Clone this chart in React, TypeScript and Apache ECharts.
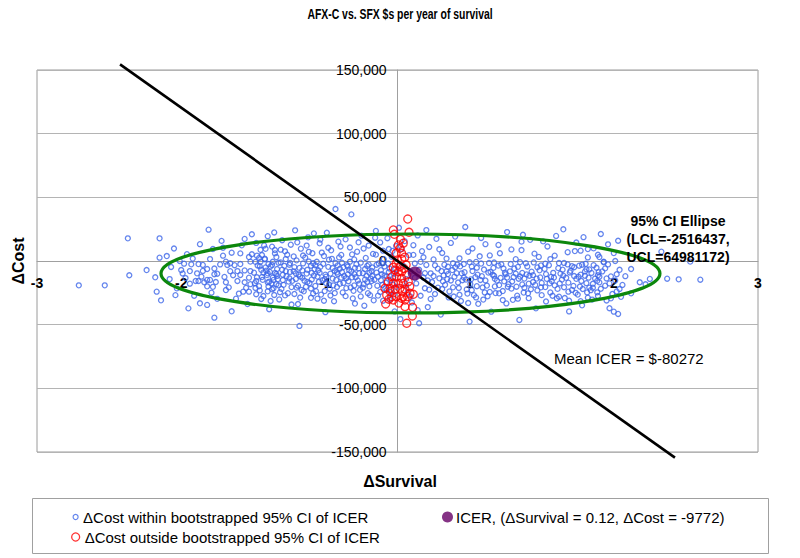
import React, { useEffect, useRef } from 'react';
import * as echarts from 'echarts';

const FONT = "'Liberation Sans', Arial, sans-serif";
const TITLE = 'AFX-C vs. SFX $s per year of survival';
const X_NAME = 'ΔSurvival';
const Y_NAME = 'ΔCost';
const NAME_WITHIN = 'ΔCost within bootstrapped 95% CI of ICER';
const NAME_OUTSIDE = 'ΔCost outside bootstrapped 95% CI of ICER';
const NAME_ICER = 'ICER, (ΔSurvival = 0.12, ΔCost = -9772)';
const MEAN_ICER_TEXT = 'Mean ICER = $-80272';

const X_MIN = -2.5;
const X_MAX = 2.5;
const Y_MIN = -150000;
const Y_MAX = 150000;
const xTickValues = [-2.5, -1.5, -0.5, 0.5, 1.5, 2.5];
const xTickLabels = ['-3', '-2', '-1', '1', '2', '3'];
const icerPoint: [number, number] = [0.12, -9772];
const meanIcer = -80272;
const icerLineEnds = [-1.924, 1.924];
// center survival, center cost, semi-axis survival, semi-axis cost
const ellipse = [0.09, -9800, 1.73, 31000];
const ellipseLabel = ['95% CI Ellipse', '(LCL=-2516437,', 'UCL=64981172)'];

const withinCI: [number, number][] = [
  [-2.21,-19100],[-2.03,-19100],[-1.87,17800],[-1.86,-11200],[-1.74,-7100],[-1.65,17800],[-1.65,2600],[-1.68,-12800],[-1.67,-24100],[-1.64,-30900],[-1.60,3900],
  [-1.51,0],[-1.48,-2100],[-1.43,-2600],[-1.38,-2400],[-1.35,-3100],[-1.50,-7100],[-1.44,-7900],[-1.39,-9700],[-1.32,-6300],[-1.36,-12300],[-1.40,-15700],[-1.38,-15700],[-1.32,-14900],[-1.30,-14900],[-1.27,-10400],[-1.25,-10000],[-1.19,-16700],[-1.29,-24900],[-1.37,-33200],[-1.32,-34500],[-1.27,-44500],[-1.31,24600],[-1.28,9400],[-1.21,10400],[-1.21,4200],[-1.19,-500],[-1.18,-3100],[-1.16,-1800],
  [-1.11,-7900],[-1.09,-11000],[-1.11,-15700],[-1.06,-16700],[-1.03,-13100],[-1.02,-7900],[-1.09,6000],[-1.06,17300],[-1.01,21000],[-1.02,-500],[-1.01,5300],[-1.07,-24100],[-1.03,-24100],[-0.98,-26100],[-0.98,-15700],[-0.94,4700],[-0.95,-500],[-0.92,1300],[-0.90,-9700],[-0.89,-16300],[-0.86,-14900],[-0.87,-22200],[-0.88,-31400],[-0.85,6000],[-0.84,-10200],[-0.85,8600],
  [-1.58,-14200],[-1.55,9800],[-1.53,-21500],[-1.49,-9800],[-1.46,5400],[-1.44,-17800],[-1.41,-27300],[-1.37,13200],[-1.35,-7800],[-1.32,-19900],[-1.30,1500],[-1.27,-5900],[-1.25,-29700],[-1.22,15800],[-1.20,-12500],[-1.17,-20700],[-1.15,6500],[-1.13,-3300],[-1.10,-25600],[-1.08,12300],[-1.06,-7400],[-1.04,-33800],[-1.02,-18200],[-1.15,-39500],[-1.45,-37200],
  [-1.57,-4700],[-1.54,-26800],[-1.47,-13400],[-1.42,1900],[-1.34,-16700],[-1.28,-20300],[-1.23,-2700],[-1.19,-22800],[-1.14,-11200],[-1.12,-29600],[-1.09,-2400],[-1.05,-21100],[-1.03,3100],[-1.26,-16500],[-1.16,-8000],
  [-0.98,14200],[-0.97,-3500],[-0.96,-19800],[-0.95,8800],[-0.94,-12600],[-0.93,-27500],[-0.92,1800],[-0.91,-7600],[-0.90,-16800],[-0.90,19500],
  [-0.89,-37900],[-0.88,-4200],[-0.87,11300],[-0.86,-21400],[-0.85,-9500],[-0.84,3100],[-0.83,-14300],[-0.82,-30200],[-0.81,-1100],[-0.80,16300],[-0.80,-6800],
  [-0.79,-18700],[-0.78,7600],[-0.77,-11900],[-0.76,-25300],[-0.75,-2900],[-0.74,12800],[-0.73,-15600],[-0.72,-8100],[-0.71,24100],[-0.70,-20900],[-0.70,500],
  [-0.69,-33800],[-0.68,-5400],[-0.68,-51000],[-0.67,9700],[-0.66,-13200],[-0.65,-23800],[-0.64,2700],[-0.63,-9900],[-0.62,18600],[-0.61,-17300],[-0.60,-3700],[-0.60,-28900],
  [-0.59,6100],[-0.58,21700],[-0.58,-11400],[-0.57,-19600],[-0.56,-600],[-0.55,-7300],[-0.54,13900],[-0.53,-26400],[-0.52,-15100],[-0.51,3900],[-0.50,-10700],[-0.50,-40200],
  [-0.49,22200],[-0.48,-4600],[-0.47,-21800],[-0.46,8400],[-0.45,-13800],[-0.44,-31600],[-0.43,40800],[-0.43,-1500],[-0.42,-8900],[-0.41,15200],[-0.40,-17900],[-0.40,-6100],
  [-0.39,4800],[-0.38,-24700],[-0.37,-11800],[-0.36,17000],[-0.35,-3200],[-0.34,-15900],[-0.33,10600],[-0.32,36600],[-0.32,-8300],[-0.31,-29400],[-0.30,-19200],[-0.30,1200],
  [-0.29,-12700],[-0.28,7300],[-0.27,-5800],[-0.26,-22600],[-0.25,19900],[-0.24,-9600],[-0.23,-35100],[-0.22,2400],[-0.21,-16400],[-0.20,12100],[-0.20,-2700],
  [-0.19,-26800],[-0.18,-7800],[-0.17,5600],[-0.16,-14700],[-0.15,23600],[-0.14,-19400],[-0.13,-1900],[-0.12,14600],[-0.11,-10400],[-0.10,-31200],[-0.10,8100],
  [-0.09,-4300],[-0.08,-17100],[-0.07,17900],[-0.06,-8700],[-0.05,-24200],[-0.04,3300],[-0.03,-13300],[-0.02,-39600],[-0.01,11700],[-0.01,-20300],
  [-0.995,-9200],[-0.975,4200],[-0.955,-23100],[-0.935,-14800],[-0.915,9600],[-0.895,-2400],[-0.875,-17600],[-0.855,22400],[-0.835,-6300],[-0.815,-24500],[-0.795,-10800],[-0.775,1500],[-0.755,-16200],[-0.735,-34200],[-0.715,-4800],[-0.695,14700],[-0.675,-12100],[-0.655,-1900],[-0.635,-20300],[-0.615,7200],[-0.595,-14500],[-0.575,-6400],[-0.555,-29600],[-0.535,16800],[-0.515,-2200],[-0.495,-12300],[-0.475,-18500],[-0.455,1700],[-0.435,-25200],[-0.415,-10200],[-0.395,11400],[-0.375,-4800],[-0.355,-21300],[-0.335,-7100],[-0.315,5200],[-0.295,-33400],[-0.275,-15300],[-0.255,-1300],[-0.235,9800],[-0.215,-11600],[-0.195,-19900],[-0.175,-5100],[-0.155,18300],[-0.135,-27200],[-0.115,-7200],[-0.095,1400],[-0.075,-12200],[-0.055,-30100],[-0.035,7900],[-0.015,-6400],
  [-0.985,-700],[-0.945,-6900],[-0.905,-11100],[-0.865,-13000],[-0.825,-19100],[-0.785,-3800],[-0.745,-8600],[-0.705,-14100],[-0.665,-22700],[-0.625,-6900],[-0.585,-1700],[-0.545,-16300],[-0.505,-23600],[-0.465,-9900],[-0.425,-14900],[-0.385,-1400],[-0.345,-10500],[-0.305,-23400],[-0.265,-17800],[-0.225,-6300],[-0.185,-13800],[-0.145,-9100],[-0.105,-18800],[-0.065,-2000],[-0.025,-9800],
  [-0.99,-17400],[-0.96,2300],[-0.93,-9000],[-0.90,-23800],[-0.87,-3100],[-0.84,-18200],[-0.81,8900],[-0.78,-27000],[-0.75,-13600],[-0.72,3600],[-0.69,-19400],[-0.66,-7400],[-0.63,12100],[-0.60,-21600],[-0.57,-3300],[-0.54,-9300],[-0.51,-31200],[-0.48,10400],[-0.45,-5500],[-0.42,-20400],[-0.39,-13100],[-0.36,-27600],[-0.33,-600],[-0.30,-10200],[-0.27,14700],[-0.24,-21000],[-0.21,-3900],[-0.18,-15800],[-0.15,5000],[-0.12,-24300],[-0.09,-11400],[-0.06,9400],[-0.03,-18600],
  [-0.975,-12800],[-0.945,-29800],[-0.915,-5000],[-0.885,-8600],[-0.855,-26700],[-0.825,-1400],[-0.795,-15000],[-0.765,4900],[-0.735,-20500],[-0.705,-9700],[-0.675,-28700],[-0.645,-15500],[-0.615,-400],[-0.585,-25500],[-0.555,-12200],[-0.525,6600],[-0.495,-17300],[-0.465,-27100],[-0.435,-7800],[-0.405,2800],[-0.375,-17200],[-0.345,-4400],[-0.315,-12800],[-0.285,-2500],[-0.255,-27800],[-0.225,-14500],[-0.195,-9300],[-0.165,-30900],[-0.135,-12300],[-0.105,-1900],[-0.075,-22900],[-0.045,-15100],
  [-0.985,-21200],[-0.955,-4200],[-0.925,12200],[-0.895,-20100],[-0.865,-600],[-0.835,-11700],[-0.805,-21900],[-0.775,-8000],[-0.745,-1600],[-0.715,-25900],[-0.685,-10600],[-0.655,4300],[-0.625,-16400],[-0.595,-9300],[-0.565,-23700],[-0.535,-4600],[-0.505,-14300],[-0.475,1000],[-0.445,-19100],[-0.415,-3500],[-0.385,-8700],[-0.355,-13500],[-0.325,-20800],[-0.295,-5400],[-0.265,-9600],[-0.235,-18200],[-0.205,-25300],[-0.175,-11800],[-0.145,-2900],[-0.115,-15100],[-0.085,-21500],[-0.055,-5900],[-0.025,-26200],
  [0.01,26100],[0.02,-45600],[0.03,9500],[0.04,-3800],[0.05,15600],[0.06,-14200],[0.07,-24800],[0.08,4600],[0.09,-8200],[0.10,-32600],[0.11,12400],[0.12,-1900],[0.13,-17600],[0.14,20100],[0.15,-48900],[0.15,-6900],[0.16,-27300],[0.17,7700],[0.18,-12900],[0.19,-21400],[0.20,24300],[0.20,-3100],[0.21,-36200],[0.22,11000],[0.23,-9700],[0.24,-16500],[0.25,1200],[0.26,-25900],[0.27,17400],[0.28,-6000],[0.29,-13600],[0.30,-42100],[0.14,-38600],[0.23,-29800],[0.18,2900],
  [0.06,-19200],[0.09,-27800],[0.12,-13200],[0.16,-700],[0.19,-9600],[0.22,-22500],[0.25,-11800],[0.28,-20900],[0.11,4800],[0.26,-3400],[0.21,-15300],[0.29,9200],
  [0.31,6300],[0.33,-18700],[0.35,-4500],[0.37,14200],[0.39,-27900],[0.41,-9600],[0.43,2100],[0.45,-15100],[0.47,26700],[0.48,-22300],[0.50,-47600],[0.50,-1000],[0.52,9800],[0.54,-12700],[0.56,-33600],[0.58,18100],[0.60,-6700],[0.62,-19300],[0.64,4400],[0.66,-10800],[0.68,-25200],[0.70,12600],[0.72,-2600],[0.74,-16000],[0.76,22700],[0.78,-8100],[0.80,-30500],[0.82,1400],[0.84,-13900],[0.845,-46300],[0.86,8600],[0.88,-21000],[0.90,-4300],[0.92,16600],[0.94,-11100],[0.96,-37200],[0.98,3200],[1.00,-17200],[1.02,-6200],[1.04,11400],[1.06,-24700],[1.08,-9300],[1.10,19700],[1.12,-1600],[1.14,-14600],[1.16,-29100],[1.18,6900],[1.20,-7700],[1.22,-19600],[1.24,14500],[1.26,-3700],[1.28,-34800],[1.30,-11600],[1.32,2800],[1.34,-22900],[1.36,9900],[1.38,-5300],[1.40,-16800],
  [0.32,-11300],[0.34,1900],[0.36,-23900],[0.38,-7100],[0.40,19200],[0.42,-16900],[0.44,-31400],[0.46,-2400],[0.49,7300],[0.51,-14400],[0.53,-26800],[0.55,-5300],[0.57,3700],[0.59,-20800],[0.61,13200],[0.63,-9100],[0.65,-39800],[0.67,-1200],[0.69,-15400],[0.71,6100],[0.73,-23600],[0.75,-10400],[0.77,-18200],[0.79,9100],[0.81,-5900],[0.83,-27200],[0.85,-12200],[0.87,20600],[0.89,-1700],[0.91,-17800],[0.93,-8400],[0.95,5800],[0.97,-23100],[0.99,-12900],[1.01,15400],[1.03,-31800],[1.05,-3300],[1.07,-15800],[1.09,4200],[1.11,-21900],[1.13,-9900],[1.15,24900],[1.17,-13200],[1.19,-39600],[1.21,-4100],[1.23,7800],[1.25,-26400],[1.27,-10700],[1.29,18700],[1.31,-17400],[1.33,-6600],[1.35,-30300],[1.37,-13800],[1.39,4900],
  [0.305,-7900],[0.345,-14300],[0.385,-1800],[0.425,-21200],[0.465,-8800],[0.505,-18100],[0.545,-700],[0.585,-11900],[0.625,-27700],[0.665,-5400],[0.705,-18900],[0.745,-9200],[0.785,-2400],[0.825,-20200],[0.865,-9400],[0.905,-25400],[0.945,-1100],[0.985,-7300],[1.025,-20500],[1.065,-12500],[1.105,-29300],[1.145,-6800],[1.185,-17000],[1.225,-11800],[1.265,-20100],[1.305,-2200],[1.345,-9400],[1.385,-24600],
  [0.31,-22000],[0.34,-8100],[0.37,-15300],[0.40,-4900],[0.43,-26500],[0.46,-13000],[0.49,-33000],[0.52,-7900],[0.55,-19800],[0.58,-2000],[0.61,-15300],[0.64,-24300],[0.67,-11600],[0.70,-3600],[0.73,-30700],[0.76,-13000],[0.79,-21700],[0.82,-9900],[0.85,-900],[0.88,-13800],[0.91,-29200],[0.94,-16500],[0.97,-5000],[1.00,-26800],[1.03,-10300],[1.06,1500],[1.09,-19100],[1.12,-28000],[1.15,-11500],[1.18,-2700],[1.21,-22700],[1.24,-14000],[1.27,-31500],[1.30,-8200],[1.33,-20900],[1.36,-3300],[1.39,-11200],
  [0.325,-2900],[0.355,-28600],[0.395,-12300],[0.435,-4200],[0.475,-14600],[0.515,-22900],[0.555,-10700],[0.595,-30300],[0.635,-1600],[0.675,-20000],[0.715,-13200],[0.755,-33300],[0.795,-16100],[0.835,-4600],[0.875,-24800],[0.915,-11600],[0.955,-18800],[0.995,-3500],[1.035,-14000],[1.075,-27300],[1.115,-5600],[1.155,-20600],[1.195,-9000],[1.235,-25000],[1.275,-15700],[1.315,-24700],[1.355,-17900],[1.395,-8800],
  [0.315,-16000],[0.35,-10300],[0.385,-20700],[0.415,-2800],[0.445,-9700],[0.485,-25600],[0.515,-4400],[0.545,-28600],[0.575,-14900],[0.605,-24700],[0.645,-8500],[0.675,-14000],[0.705,-25400],[0.735,-5900],[0.765,-20200],[0.805,-12600],[0.835,-29600],[0.865,-18400],[0.895,-10500],[0.925,-22200],[0.965,-13800],[0.995,-20700],[1.025,-2100],[1.055,-17500],[1.085,-13000],[1.125,-17600],[1.155,-1500],[1.185,-24100],[1.225,-4900],[1.255,-12400],[1.285,-22000],[1.325,-13100],[1.355,-21000],[1.385,-15600],
  [1.42,-8200],[1.44,-19400],[1.46,-2700],[1.48,-12100],[1.50,6200],[1.52,-23900],[1.54,-6900],[1.45,-31000],[1.53,15900],[1.49,-25900],[1.41,21200],[1.47,-17600],[1.55,-28100],[1.51,-15300],[1.43,-600],
  [1.41,-21800],[1.44,-5800],[1.48,-29300],[1.52,-10400],[1.56,-18800],[1.51,0],[1.45,-13700],[1.58,-11900],
  [1.46,13100],[1.62,-6300],[1.68,-16700],[1.72,-18300],[1.75,-14100],[1.87,-13900],[1.95,-14400],[2.10,-14700],[2.03,-500],[1.47,-37100],[1.50,-39800],[1.53,-41600],[1.54,-22000],[1.39,-27500],[1.32,-28800],[1.19,-31200],[1.31,-6500],[1.28,-2900],[1.40,3100],[1.43,-1000],[1.40,-12300],[1.27,8100],[1.32,9400],[1.83,7300],[1.62,-25400],[0.86,15200],
];

const outsideCI: [number, number][] = [
  [0.071,32970],[-0.029,24340],[-0.022,20960],[0.080,22530],[0.006,12560],[0.017,9970],[-0.010,6040],[0.029,6040],[-0.001,785],[0.017,-4470],[-0.017,-7065],[0.006,-8400],[0.029,-8400],[-0.040,-12320],[-0.006,-12320],[0.029,-13580],[0.064,-10990],[-0.064,-16250],[-0.029,-17500],[0.006,-17500],[0.040,-17500],[0.075,-16250],[-0.087,-21430],[-0.052,-21430],[-0.017,-22220],[0.017,-21430],[0.052,-22220],[-0.075,-26690],[-0.040,-28020],[-0.006,-28020],[0.040,-28020],[0.029,-29280],[0.052,-30615],[0.087,-25360],[0.110,-26140],[0.105,-36350],[0.064,-48900],[-0.082,-33750],[0.052,-35870],[0.103,-43180],[-0.029,-30615],
  [0.040,14000],[0.050,3000],[0.020,17000],[0.060,-3000],[-0.010,-2000],[0.045,-6000],[0.085,-20000],[-0.050,-24000],[0.070,-28000],[-0.060,-30000],[0.010,-33000],[0.035,-24000],[0.030,1500],[-0.030,-5000],
];

const BLUE = '#3d66e8';
const RED = '#ff0000';
const PURPLE = '#660066';
const GREEN = '#0c870c';

// grid geometry (pixels)
const G_LEFT = 37;
const G_RIGHT = 42;
const G_TOP = 70;
const G_BOTTOM = 106;
const W = 800;
const H = 558;

export default function App() {
  const ref = useRef<HTMLDivElement>(null);
  useEffect(() => {
    if (!ref.current) return;
    const chart = echarts.init(ref.current, undefined, { renderer: 'svg' });
    const plotW = W - G_LEFT - G_RIGHT;
    const plotH = H - G_TOP - G_BOTTOM;
    // shift axes so they cross at the origin, labels included
    const yAxisOffset = -((0 - X_MIN) / (X_MAX - X_MIN)) * plotW;
    const xAxisOffset = -((0 - Y_MIN) / (Y_MAX - Y_MIN)) * plotH;
    const option: any = {
      animation: false,
      backgroundColor: '#ffffff',
      textStyle: { fontFamily: FONT },
      grid: {
        left: G_LEFT, right: G_RIGHT, top: G_TOP, bottom: G_BOTTOM,
        containLabel: false, outerBoundsMode: 'none',
        show: true, borderColor: '#9a9a9a', borderWidth: 1, backgroundColor: 'transparent',
      },
      xAxis: {
        type: 'value', min: X_MIN, max: X_MAX, interval: 0.5,
        position: 'bottom', offset: xAxisOffset,
        axisLine: { onZero: false, lineStyle: { color: '#a0a0a0', width: 1 } },
        axisTick: { show: false },
        splitLine: { show: false },
        axisLabel: {
          margin: 15,
          fontFamily: FONT, fontSize: 14, fontWeight: 'bold', color: '#000',
          formatter: (v: number) => {
            const i = xTickValues.findIndex((t) => Math.abs(t - v) < 1e-6);
            return i >= 0 ? xTickLabels[i] : '';
          },
        },
      },
      yAxis: {
        type: 'value', min: Y_MIN, max: Y_MAX, interval: 50000,
        position: 'left', offset: yAxisOffset,
        axisLine: { onZero: false, lineStyle: { color: '#a0a0a0', width: 1 } },
        axisTick: { show: false },
        splitLine: { show: true, lineStyle: { color: '#b4b4b4', width: 1 } },
        axisLabel: {
          margin: 11,
          fontFamily: FONT, fontSize: 14, color: '#000',
          formatter: (v: number) => v.toLocaleString('en-US'),
        },
      },
      legend: [
        {
          data: [{ name: NAME_WITHIN, icon: 'circle', itemStyle: { color: '#fff', borderColor: BLUE, borderWidth: 1.2 } }],
          left: 67.5, top: 504.5, itemWidth: 5, itemHeight: 5, selectedMode: false,
          textStyle: { fontFamily: FONT, fontSize: 15, color: '#000' },
        },
        {
          data: [{ name: NAME_ICER, icon: 'circle', itemStyle: { color: PURPLE } }],
          left: 437, top: 504.5, itemWidth: 11, itemHeight: 11, itemGap: 3, selectedMode: false,
          textStyle: { fontFamily: FONT, fontSize: 15, color: '#000', padding: [0, 0, 0, -2] },
        },
        {
          data: [{ name: NAME_OUTSIDE, icon: 'circle', itemStyle: { color: '#fff', borderColor: RED, borderWidth: 1.3 } }],
          left: 66, top: 524.5, itemWidth: 8, itemHeight: 8, selectedMode: false,
          textStyle: { fontFamily: FONT, fontSize: 15, color: '#000' },
        },
      ],
      graphic: [
        {
          type: 'text', x: 400, y: 14, scaleX: 0.745,
          style: { text: TITLE, font: `bold 14px ${FONT}`, fill: '#000', textAlign: 'center', textVerticalAlign: 'middle' },
        },
        {
          type: 'text', x: 18, y: 261, rotation: Math.PI / 2,
          style: { text: Y_NAME, font: `bold 16px ${FONT}`, fill: '#000', textAlign: 'center', textVerticalAlign: 'middle' },
        },
        {
          type: 'text', x: 400, y: 481,
          style: { text: X_NAME, font: `bold 16px ${FONT}`, fill: '#000', textAlign: 'center', textVerticalAlign: 'middle' },
        },
        {
          type: 'text', x: 554, y: 358,
          style: { text: MEAN_ICER_TEXT, font: `15px ${FONT}`, fill: '#000', textAlign: 'left', textVerticalAlign: 'middle' },
        },
        {
          type: 'text', x: 678, y: 239, z: 100,
          style: { text: ellipseLabel.join('\n'), font: `bold 14px ${FONT}`, lineHeight: 18, fill: '#000', textAlign: 'center', textVerticalAlign: 'middle' },
        },
        {
          type: 'rect', shape: { x: 32.5, y: 498.5, width: 736, height: 55 },
          style: { fill: 'none', stroke: '#a0a0a0', lineWidth: 1 },
        },
      ],
      series: [
        {
          name: NAME_WITHIN, type: 'scatter', data: withinCI, symbol: 'circle', symbolSize: 5, z: 2,
          itemStyle: { color: 'rgba(0,0,0,0)', borderColor: BLUE, borderWidth: 1.3 },
          emphasis: { disabled: true },
        },
        {
          name: NAME_OUTSIDE, type: 'scatter', data: outsideCI, symbol: 'circle', symbolSize: 8, z: 3,
          itemStyle: { color: 'rgba(0,0,0,0)', borderColor: RED, borderWidth: 1.3 },
          emphasis: { disabled: true },
        },
        {
          name: '95% CI Ellipse', type: 'custom', z: 4, silent: true,
          data: [ellipse],
          renderItem: (params: any, api: any) => {
            const c = api.coord([api.value(0), api.value(1)]);
            const s = api.size([api.value(2), api.value(3)]);
            return {
              type: 'ellipse',
              shape: { cx: c[0], cy: c[1], rx: s[0], ry: s[1] },
              style: { fill: 'none', stroke: GREEN, lineWidth: 3.2 },
            };
          },
        },
        {
          name: 'Mean ICER', type: 'line', z: 5, clip: false, symbol: 'none', silent: true,
          data: icerLineEnds.map((x) => [x, meanIcer * x]),
          lineStyle: { color: '#000', width: 2.6 },
        },
        {
          name: NAME_ICER, type: 'scatter', data: [icerPoint], symbol: 'circle', symbolSize: 14, z: 6,
          itemStyle: { color: PURPLE },
          emphasis: { disabled: true },
        },
      ],
    };
    chart.setOption(option);
    return () => chart.dispose();
  }, []);
  return <div ref={ref} style={{ position: 'fixed', left: 0, top: 0, width: W, height: H }} />;
}
